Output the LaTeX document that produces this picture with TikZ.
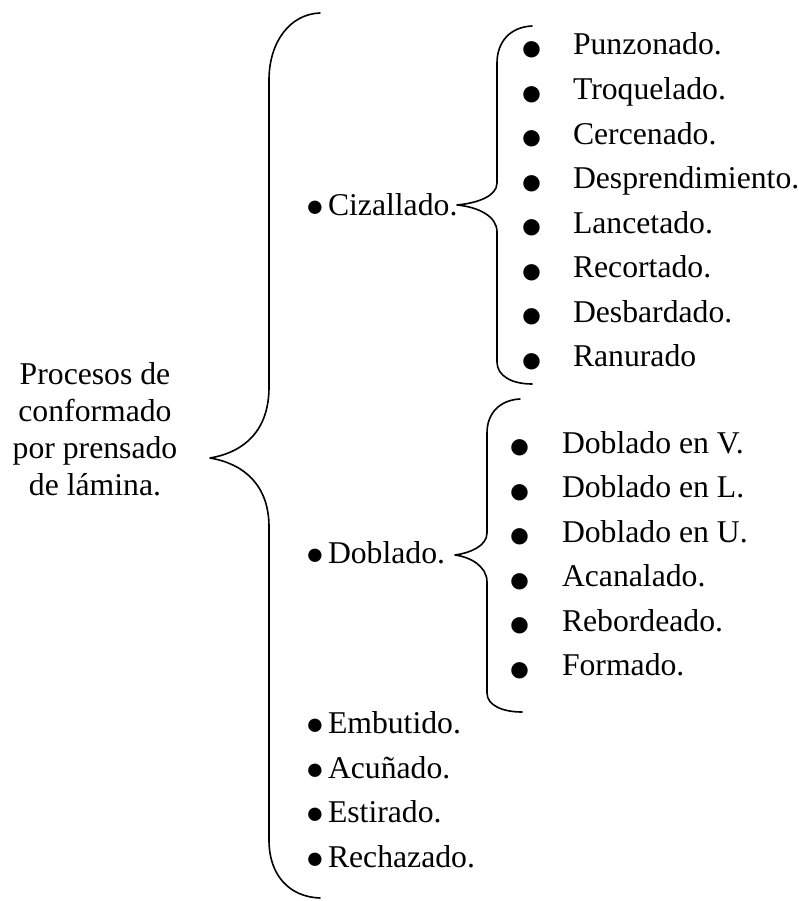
\documentclass[tikz,border=0pt]{standalone}
\usepackage{fontspec}
\setmainfont{Liberation Serif}
\begin{document}
\begin{tikzpicture}[x=1pt,y=-1pt,
  every node/.style={inner sep=0pt,outer sep=0pt,font=\fontsize{31.7}{36.7}\selectfont},
  entry/.style={anchor=base west},
  dotone/.style={anchor=base,font=\fontsize{31}{31}\selectfont},
  dottwo/.style={anchor=base,font=\fontsize{38}{38}\selectfont},
  brace/.style={draw=black,line width=1.6pt,line cap=round,line join=round}]
\useasboundingbox (0,0) rectangle (799,901);

% title
\node[align=center,anchor=north] (title) at (95,363) {Procesos de\\conformado\\por prensado\\de lámina.};

% level one
\node[entry] (cz) at (328,215) {Cizallado.};
\node[entry] (db) at (328,563) {Doblado.};
\node[entry] (em) at (328,733) {Embutido.};
\node[entry] (ac) at (328,778) {Acuñado.};
\node[entry] (es) at (328,822) {Estirado.};
\node[entry] (re) at (328,867) {Rechazado.};
\foreach \n/\y in {bcz/215,bdb/563,bem/733,bac/778,bes/822,bre/867}
  \node[dotone] (\n) at (315,\y+1.5) {●};

% Cizallado list
\foreach \t [count=\i from 0] in {Punzonado.,Troquelado.,Cercenado.,Desprendimiento.,Lancetado.,Recortado.,Desbardado.,Ranurado}{
  \node[entry] (a\i) at (573,55+44.57*\i) {\t};
  \node[dottwo] (ba\i) at (532,55+44.57*\i+5.5) {●};
}

% Doblado list
\foreach \t [count=\i from 0] in {Doblado en V.,Doblado en L.,Doblado en U.,Acanalado.,Rebordeado.,Formado.}{
  \node[entry] (d\i) at (562,453+44.5*\i) {\t};
  \node[dottwo] (bd\i) at (520,453+44.5*\i+5.5) {●};
}

% big brace
\coordinate (Ltop) at (320,13);
\coordinate (Ltip) at (210,458);
\coordinate (Lbot) at (320,898);
\draw[brace] (Ltop) .. controls (290,14) and (269,42) .. (269,80) -- (269,387)
  .. controls (269,430) and (245,452) .. (Ltip)
  .. controls (245,464) and (269,486) .. (269,527) -- (269,840)
  .. controls (269,876) and (290,897) .. (Lbot);

% Cizallado brace
\coordinate (Ctop) at (532,26);
\coordinate (Ctip) at (457,205);
\coordinate (Cbot) at (532,384);
\draw[brace] (Ctop) .. controls (510,27) and (497,42) .. (497,63) -- (497,183)
  .. controls (497,196) and (478,203) .. (Ctip)
  .. controls (478,207) and (497,216) .. (497,232) -- (497,362)
  .. controls (497,376) and (512,384) .. (Cbot);

% Doblado brace
\coordinate (Dtop) at (520,399);
\coordinate (Dtip) at (455,555);
\coordinate (Dbot) at (522,712);
\draw[brace] (Dtop) .. controls (500,400) and (487,413) .. (487,433) -- (487,533)
  .. controls (487,546) and (470,553) .. (Dtip)
  .. controls (470,557) and (487,566) .. (487,582) -- (487,693)
  .. controls (487,705) and (502,712) .. (Dbot);
\end{tikzpicture}
\end{document}
